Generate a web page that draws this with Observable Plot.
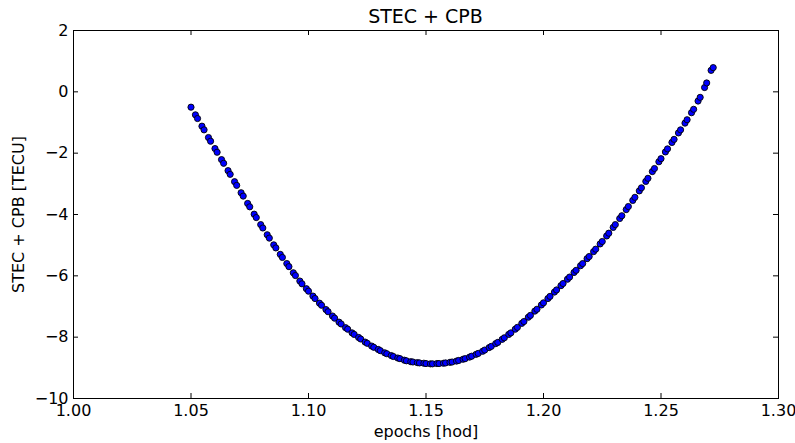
<!DOCTYPE html>
<html>
<head>
<meta charset="utf-8">
<script src="https://cdn.jsdelivr.net/npm/d3@7"></script>
<script src="https://cdn.jsdelivr.net/npm/@observablehq/plot@0.6"></script>
<style>
  html, body { margin: 0; padding: 0; background: #fff; }
  #title { box-sizing: border-box; height: 26px; padding-top: 7px; padding-left: 73px; width: 778px;
           font: 19px "DejaVu Sans"; line-height: 19px; text-align: center; color: #000; white-space: nowrap; }
  #chart svg { display: block; }
</style>
</head>
<body>
<div id="title">STEC + CPB</div>
<div id="chart"></div>
<script>
// ---- data ----
const titleText = "STEC + CPB";
const xLabel = "epochs [hod]";
const yLabel = "STEC + CPB [TECU]";
const xTicks = [1.00, 1.05, 1.10, 1.15, 1.20, 1.25, 1.30];
const yTicks = [-10, -8, -6, -4, -2, 0, 2];

// main epochs (every 10 s)
const epochsA = [
  1.05000,1.05278,1.05556,1.05833,1.06111,1.06389,1.06667,1.06944,1.07222,1.07500,
  1.07778,1.08056,1.08333,1.08611,1.08889,1.09167,1.09444,1.09722,1.10000,1.10278,
  1.10556,1.10833,1.11111,1.11389,1.11667,1.11944,1.12222,1.12500,1.12778,1.13056,
  1.13333,1.13611,1.13889,1.14167,1.14444,1.14722,1.15000,1.15278,1.15556,1.15833,
  1.16111,1.16389,1.16667,1.16944,1.17222,1.17500,1.17778,1.18056,1.18333,1.18611,
  1.18889,1.19167,1.19444,1.19722,1.20000,1.20278,1.20556,1.20833,1.21111,1.21389,
  1.21667,1.21944,1.22222,1.22500,1.22778,1.23056,1.23333,1.23611,1.23889,1.24167,
  1.24444,1.24722,1.25000,1.25278,1.25556,1.25833,1.26111,1.26389,1.26667,1.26944,
  1.27222
];
const stecA = [
  -0.50,-0.87,-1.24,-1.61,-1.97,-2.33,-2.69,-3.05,-3.40,-3.75,
  -4.10,-4.44,-4.77,-5.09,-5.40,-5.70,-5.99,-6.26,-6.50,-6.74,
  -6.96,-7.17,-7.38,-7.57,-7.74,-7.91,-8.06,-8.20,-8.33,-8.44,
  -8.54,-8.63,-8.70,-8.77,-8.81,-8.84,-8.86,-8.87,-8.86,-8.84,
  -8.81,-8.76,-8.70,-8.62,-8.53,-8.42,-8.30,-8.17,-8.02,-7.86,
  -7.68,-7.49,-7.29,-7.09,-6.88,-6.67,-6.46,-6.25,-6.04,-5.82,
  -5.60,-5.37,-5.13,-4.88,-4.61,-4.33,-4.04,-3.74,-3.44,-3.13,
  -2.82,-2.50,-2.18,-1.86,-1.55,-1.24,-0.91,-0.57,-0.18,0.29,
  0.79
];
// companion epochs (a few seconds before each main epoch)
const epochsB = [
  1.05188,1.05466,1.05743,1.06021,1.06299,1.06577,1.06854,1.07132,1.07410,
  1.07688,1.07966,1.08243,1.08521,1.08799,1.09077,1.09354,1.09632,1.09910,1.10188,
  1.10466,1.10743,1.11021,1.11299,1.11577,1.11854,1.12132,1.12410,1.12688,1.12966,
  1.13243,1.13521,1.13799,1.14077,1.14354,1.14632,1.14910,1.15188,1.15466,1.15743,
  1.16021,1.16299,1.16577,1.16854,1.17132,1.17410,1.17688,1.17966,1.18243,1.18521,
  1.18799,1.19077,1.19354,1.19632,1.19910,1.20188,1.20466,1.20743,1.21021,1.21299,
  1.21577,1.21854,1.22132,1.22410,1.22688,1.22966,1.23243,1.23521,1.23799,1.24077,
  1.24354,1.24632,1.24910,1.25188,1.25466,1.25743,1.26021,1.26299,1.26577,1.26854,
  1.27132
];
const stecB = [
  -0.75,-1.12,-1.49,-1.85,-2.21,-2.57,-2.93,-3.29,-3.64,
  -3.99,-4.33,-4.66,-4.99,-5.30,-5.60,-5.90,-6.17,-6.42,-6.66,
  -6.89,-7.10,-7.31,-7.51,-7.69,-7.86,-8.01,-8.16,-8.29,-8.40,
  -8.51,-8.60,-8.68,-8.75,-8.80,-8.83,-8.85,-8.87,-8.86,-8.85,
  -8.82,-8.78,-8.72,-8.65,-8.56,-8.46,-8.34,-8.21,-8.07,-7.91,
  -7.74,-7.55,-7.35,-7.15,-6.95,-6.74,-6.53,-6.32,-6.11,-5.89,
  -5.67,-5.44,-5.21,-4.96,-4.70,-4.42,-4.13,-3.84,-3.54,-3.23,
  -2.92,-2.60,-2.28,-1.96,-1.65,-1.34,-1.02,-0.68,-0.30,0.14,
  0.70
];

// ---- build table ----
const points = epochsA.map((t, i) => ({t, v: stecA[i]}))
  .concat(epochsB.map((t, i) => ({t, v: stecB[i]})))
  .sort((a, b) => a.t - b.t);

document.getElementById("title").textContent = titleText;

const W = 795, H = 417;
const mt = 4, mb = 45, ml = 73, mr = 17;
const innerW = W - ml - mr;
const innerH = H - mt - mb;
const tick = 5;

const chart = Plot.plot({
  width: W, height: H,
  marginTop: mt, marginBottom: mb, marginLeft: ml, marginRight: mr,
  style: {fontFamily: "DejaVu Sans", fontSize: "16px", color: "#000", background: "#fff", overflow: "visible"},
  x: {domain: [1.0, 1.3]},
  y: {domain: [-10, 2]},
  marks: [
    Plot.dot(points, {x: "t", y: "v", r: 3.1, fill: "#0000ff", stroke: "#000", strokeWidth: 0.9}),
    Plot.frame({stroke: "#000", strokeWidth: 1}),
    Plot.tickX(xTicks, {x: d => d, insetTop: innerH - tick, stroke: "#000"}),
    Plot.tickX(xTicks, {x: d => d, insetBottom: innerH - tick, stroke: "#000"}),
    Plot.tickY(yTicks, {y: d => d, insetRight: innerW - tick, stroke: "#000"}),
    Plot.tickY(yTicks, {y: d => d, insetLeft: innerW - tick, stroke: "#000"}),
    Plot.axisX({ticks: xTicks, tickSize: 0, tickPadding: 6, tickFormat: d3.format(".2f"),
      label: xLabel, labelAnchor: "center", labelArrow: "none", labelOffset: 38, fontSize: 16}),
    Plot.axisY({ticks: yTicks, tickSize: 0, tickPadding: 5, tickFormat: d3.format("d"),
      label: yLabel, labelAnchor: "center", labelArrow: "none", labelOffset: 61, fontSize: 16})
  ]
});
document.getElementById("chart").appendChild(chart);
</script>
</body>
</html>
